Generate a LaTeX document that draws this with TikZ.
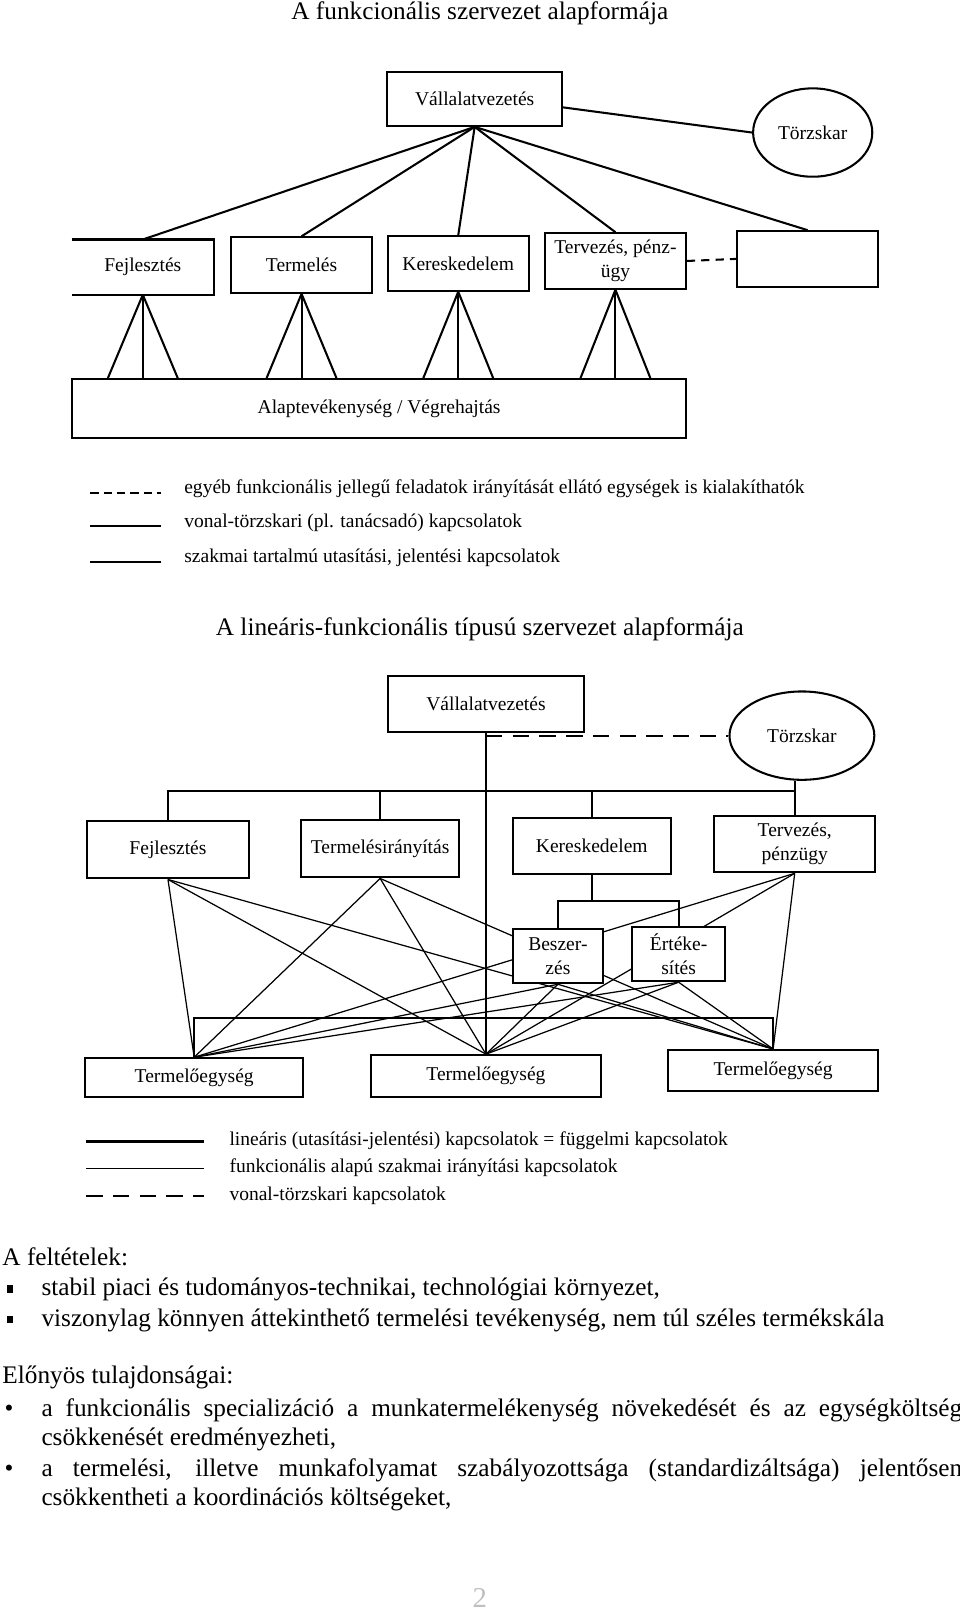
\documentclass[tikz,border=0pt]{standalone}
\usepackage{fontspec}
\setmainfont{Liberation Serif}
\usetikzlibrary{calc, backgrounds, shapes.geometric}

\begin{document}
\begin{tikzpicture}[
    x=0.5pt, y=-0.5pt,
    every node/.style={inner sep=1pt},
    bodytxt/.style ={font=\fontsize{12.3}{14.5}\selectfont, anchor=base west},
    headtxt/.style ={font=\fontsize{12.3}{14.5}\selectfont, anchor=base},
    org/.style  ={font=\fontsize{9.5}{11.5}\selectfont, align=center},
    box/.style  ={org, draw, line width=1pt, fill=white},
    sz/.style 2 args={minimum width=#1*0.5pt, minimum height=#2*0.5pt},
    oval/.style ={org, draw, ellipse, line width=1pt, fill=white},
    link/.style ={line width=1pt},
    func/.style ={line width=0.6pt},
    staff/.style={line width=1pt, dash pattern=on 8pt off 5pt},
    lgd/.style  ={org, anchor=west},
]
\useasboundingbox (0,0) rectangle (934,1568);

% first chart
\node[headtxt] (t1) at (467,19) {A funkcionális szervezet alapformája};
\node[box, sz={170}{52}] (vv1) at (462,96.5) {Vállalatvezetés};
\node[oval, sz={116}{86}] (tk1) at (791,129) {Törzskar};
\node[org, sz={138}{53}] (fej1) at (139,260) {Fejlesztés};
\node[box, sz={137}{54}] (ter1) at (293.5,258) {Termelés};
\node[box, sz={137}{53}] (ker1) at (446,256.5) {Kereskedelem};
\node[box, sz={137}{54}] (tpz1) at (599,254) {Tervezés, pénz-\\ügy};
\node[box, sz={137}{54}] (emp1) at (786,252) {};
\node[box, sz={598}{57}] (alap) at (369,397.5) {Alaptevékenység / Végrehajtás};
\draw[link] (fej1.north west) -- (fej1.north east) -- (fej1.south east) -- (fej1.south west);
\draw[link] ([yshift=-4pt]vv1.east) -- (tk1.west);
\foreach \n in {fej1,ter1,ker1,tpz1,emp1}
  \draw[link] (vv1.south) -- (\n.north);
\foreach \n in {fej1,ter1,ker1,tpz1}
  \foreach \dx in {-34,0,34}
    \draw[link] (\n.south) -- ($(\n.south |- alap.north)+(\dx,0)$);
\draw[staff, dash pattern=on 4pt off 3pt] (tpz1.east) -- (emp1.west);

% legend 1
\draw[link, dash pattern=on 4pt off 2.5pt] (88,480) -- (157,480);
\draw[link] (88,512) -- (157,512);
\draw[link] (88,547) -- (157,547);
\node[lgd] (k1) at (177,476) {egyéb funkcionális jellegű feladatok irányítását ellátó egységek is kialakíthatók};
\node[lgd] (k2) at (177,509) {vonal-törzskari (pl. tanácsadó) kapcsolatok};
\node[lgd] (k3) at (177,543) {szakmai tartalmú utasítási, jelentési kapcsolatok};

% second chart
\node[headtxt] (t2) at (467,619) {A lineáris-funkcionális típusú szervezet alapformája};
\node[box, sz={190}{54}] (vv2) at (473,685) {Vállalatvezetés};
\node[oval, sz={141}{86}] (tk2) at (780.5,716) {Törzskar};
\node[box, sz={157}{56}] (fej2) at (163.5,827) {Fejlesztés};
\node[box, sz={154}{56}] (tir2) at (370,826) {Termelésirányítás};
\node[box, sz={154}{55}] (ker2) at (576,823.5) {Kereskedelem};
\node[box, sz={157}{55}] (tpz2) at (773.5,821.5) {Tervezés,\\pénzügy};
\node[box, sz={88}{53}] (bes2) at (543,930.5) {Beszer-\\zés};
\node[box, sz={91}{53}] (ert2) at (660.5,928.5) {Értéke-\\sítés};
\node[box, sz={212}{38}] (te1) at (189,1049) {Termelőegység};
\node[box, sz={224}{41}] (te2) at (473,1047.5) {Termelőegység};
\node[box, sz={205}{40}] (te3) at (752.5,1042) {Termelőegység};
\coordinate (bus) at (0,770);
\coordinate (brk) at (0,877);
\coordinate (bar) at (0,991);
\draw[link] (vv2.south) -- (te2.north);
\draw[staff] (vv2.south |- tk2.west) -- (tk2.west);
\draw[link] (fej2.north) |- (tpz2.north |- bus) -- (tpz2.north);
\draw[link] (tir2.north) -- (tir2.north |- bus);
\draw[link] (ker2.north) -- (ker2.north |- bus);
\draw[link] (tk2.south -| tpz2.north) -- (tpz2.north |- bus);
\draw[link] (ker2.south) -- (ker2.south |- brk);
\draw[link] (bes2.north) |- (ert2.north |- brk) -- (ert2.north);
\draw[link] (te1.north) |- (te3.north |- bar) -- (te3.north);
\begin{scope}[on background layer]
  \foreach \s in {fej2,tir2,bes2,ert2,tpz2}
    \foreach \t in {te1,te2,te3}
      \draw[func] (\s.south) -- (\t.north);
\end{scope}

% legend 2
\draw[link] (84,1111) -- (199,1111);
\draw[func] (84,1137) -- (199,1137);
\draw[staff] (84,1164) -- (199,1164);
\node[lgd] (k4) at (221,1110) {lineáris (utasítási-jelentési) kapcsolatok = függelmi kapcsolatok};
\node[lgd] (k5) at (221,1137) {funkcionális alapú szakmai irányítási kapcsolatok};
\node[lgd] (k6) at (221,1164) {vonal-törzskari kapcsolatok};

% text below
\node[bodytxt] (f0) at (0,1232) {A feltételek:};
\node[bodytxt] (f1) at (38,1261) {stabil piaci és tudományos-technikai, technológiai környezet,};
\node[bodytxt] (f2) at (38,1291) {viszonylag könnyen áttekinthető termelési tevékenység, nem túl széles termékskála};
\node[bodytxt] (e0) at (0,1347) {Előnyös tulajdonságai:};
\node[bodytxt] (e1) at (38,1379) {\makebox[448pt][s]{a funkcionális specializáció a munkatermelékenység növekedését és az egységköltség}};
\node[bodytxt] (e1b) at (38,1407) {csökkenését eredményezheti,};
\node[bodytxt] (e2) at (38,1437) {\makebox[448pt][s]{a termelési, illetve munkafolyamat szabályozottsága (standardizáltsága) jelentősen}};
\node[bodytxt] (e2b) at (38,1465) {csökkentheti a koordinációs költségeket,};
\foreach \b/\m in {f1/s1, f2/s2}
  \node[bodytxt] (\m) at (4,0 |- \b.base) {\rule[1.5pt]{3.2pt}{3.5pt}};
\foreach \b/\m in {e1/r1, e2/r2}
  \node[bodytxt] (\m) at (2,0 |- \b.base) {\textbullet};
\node[headtxt, text=gray!50, font=\fontsize{14}{16}\selectfont] (pg) at (467,1565) {2};
\end{tikzpicture}
\end{document}
